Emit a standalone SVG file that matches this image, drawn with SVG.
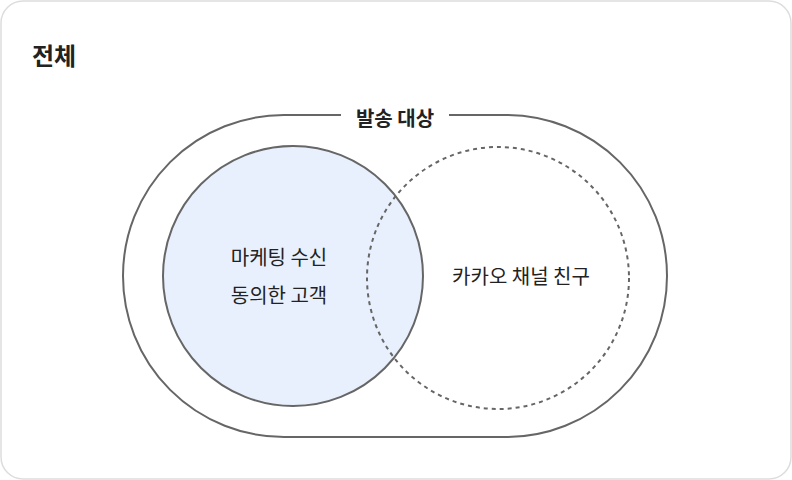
<svg xmlns="http://www.w3.org/2000/svg" width="792" height="480" viewBox="0 0 792 480">
<style>
text{font-family:"Noto Sans CJK KR","Noto Sans",sans-serif;fill:#222}
.lbl{font-size:20px;text-anchor:middle}
.b{font-weight:bold}
.ln{stroke:#666;stroke-width:2;fill:none}
</style>
<rect x="1" y="1" width="790" height="478" rx="22" fill="#fff" stroke="#ddd" stroke-width="1.5"/>
<text x="32" y="65" class="b" font-size="24">전체</text>
<g id="send-target">
<rect x="123" y="115" width="544" height="322" rx="161" class="ln"/>
<rect x="341" y="104" width="108" height="24" fill="#fff"/>
<text x="395" y="126" class="b" font-size="20" text-anchor="middle">발송 대상</text>
</g>
<g id="marketing">
<circle cx="293" cy="276" r="130" class="ln" style="fill:#e8f0fd"/>
<text x="279" y="265" class="lbl">마케팅 수신</text>
<text x="279" y="303" class="lbl">동의한 고객</text>
</g>
<g id="kakao">
<circle cx="498" cy="278" r="131" class="ln" stroke-dasharray="4 4"/>
<text x="521" y="284" class="lbl">카카오 채널 친구</text>
</g>
<g id="connectors"/>
</svg>
